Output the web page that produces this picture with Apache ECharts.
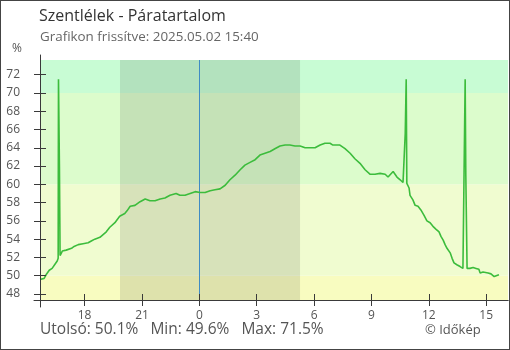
<!DOCTYPE html>
<html>
<head>
<meta charset="utf-8">
<script src="https://cdn.jsdelivr.net/npm/echarts@6/dist/echarts.min.js"></script>
<style>
  html, body { margin: 0; padding: 0; background: #fff; }
  #chart { width: 510px; height: 350px; }
</style>
</head>
<body>
<div id="chart"></div>
<script>
// Relative humidity, Szentlélek, last 24 hours (local time)
const times = [
  '15:40','15:53','15:59','16:09','16:18','16:28','16:34','16:37','16:38','16:41',
  '16:43','16:50','16:53','17:02','17:08','17:19','17:27','17:40','17:55','18:11',
  '18:21','18:32','18:48','18:58','19:08','19:19','19:35','19:50','20:06','20:13',
  '20:23','20:38','20:54','21:10','21:25','21:41','21:57','22:12','22:28','22:47',
  '22:59','23:15','23:31','23:47','00:02','00:18','00:34','00:49','01:05','01:21',
  '01:36','01:52','02:08','02:23','02:39','02:55','03:10','03:26','03:42','03:57',
  '04:13','04:29','04:44','05:00','05:16','05:32','05:47','06:03','06:19','06:34',
  '06:50','06:59','07:12','07:21','07:37','07:53','08:08','08:24','08:40','08:56',
  '09:11','09:27','09:43','09:52','10:08','10:20','10:30','10:39','10:46','10:49',
  '10:51','10:58','11:01','11:10','11:17','11:26','11:35','11:45','11:54','12:04',
  '12:13','12:22','12:32','12:38','12:45','12:51','12:57','13:07','13:13','13:19',
  '13:28','13:38','13:47','13:54','13:56','14:00','14:09','14:19','14:28','14:37',
  '14:41','14:50','14:56','15:06','15:15','15:25','15:31','15:40'
];
const humidity = [
  49.6, 49.7, 50.1, 50.6, 50.8, 51.3, 51.6, 51.9, 71.5, 61.8,
  52.2, 52.7, 52.9, 52.8, 53.0, 53.0, 53.2, 53.4, 53.5, 53.6,
  53.8, 54.0, 54.2, 54.5, 54.8, 55.3, 55.8, 56.5, 56.8, 57.1,
  57.6, 57.7, 58.1, 58.4, 58.2, 58.2, 58.4, 58.5, 58.8, 59.0,
  58.8, 58.8, 59.0, 59.2, 59.1, 59.1, 59.3, 59.4, 59.5, 59.9,
  60.5, 61.0, 61.6, 62.1, 62.4, 62.7, 63.2, 63.4, 63.6, 63.9,
  64.2, 64.3, 64.3, 64.2, 64.2, 64.0, 64.0, 64.0, 64.3, 64.5,
  64.5, 64.3, 64.3, 64.3, 63.9, 63.4, 62.8, 62.3, 61.6, 61.1,
  61.1, 61.2, 61.1, 60.8, 61.4, 60.8, 60.5, 60.2, 65.6, 71.5,
  60.1, 59.6, 58.8, 58.3, 57.7, 57.6, 57.2, 56.6, 56.0, 55.8,
  55.4, 55.1, 54.8, 54.3, 53.9, 53.4, 53.0, 52.5, 51.9, 51.4,
  51.2, 51.0, 50.8, 71.5, 61.1, 50.8, 50.8, 50.9, 50.8, 50.7,
  50.3, 50.4, 50.5, 50.3, 50.2, 49.9, 50.0, 50.1
];

// Axis ticks
const hourTicks = [18, 21, 0, 3, 6, 9, 12, 15];
const humidityTickMin = 48;
const humidityTickMax = 72;
const humidityTickStep = 2;

// Background bands by humidity level
const bandLimits = [47.34, 50, 60, 70, 73.61];
const bandColors = ['#f8fcc0', '#f0fcd0', '#dcfccc', '#c8fcd4'];

// Darkness (sunset → sunrise)
const sunset = '19:51';
const sunrise = '05:16';

const updated = '2025.05.02 15:40';

// Axis range in hours relative to midnight
const xMin = -500 / 60;
const xMax = 16.14;
const yMin = bandLimits[0];
const yMax = bandLimits[bandLimits.length - 1];

// Plot rectangle (px)
const plot = { left: 40, right: 2, top: 60, bottom: 50 };
const pxPerUnit = (350 - plot.top - plot.bottom) / (yMax - yMin);
// Sub-rectangle spanning exactly the labelled humidity range
const tickTop = plot.top + (yMax - humidityTickMax) * pxPerUnit;
const tickBottom = plot.bottom + (humidityTickMin - yMin) * pxPerUnit;

function clock(t) {
  const [h, m] = t.split(':').map(Number);
  return h + m / 60;
}
// Times before midnight belong to the previous day
function relHour(t) {
  const c = clock(t);
  return c >= 15.5 ? c - 24 : c;
}

let dayOffset = -24, prev = null;
const points = times.map((t, i) => {
  const c = clock(t);
  if (prev !== null && c < prev) dayOffset = 0;
  prev = c;
  return [c + dayOffset, humidity[i]];
});

const tickHours = hourTicks.map(h => (h >= 16 ? h - 24 : h));

const lastVal = humidity[humidity.length - 1];
const minVal = Math.min(...humidity);
const maxVal = Math.max(...humidity);

const FONT = 'Open Sans';
const axisColor = '#3a3a3a';
const labelColor = '#555';

const chart = echarts.init(document.getElementById('chart'), null, { renderer: 'canvas' });

const plainText = (size, color) => ({ fontSize: size, fontWeight: 'normal', color: color, fontFamily: FONT });
const hiddenAxis = (gridIndex, min, max) => ({ gridIndex, type: 'value', min, max, show: false, axisLine: { onZero: false } });
const stroke = () => ({ color: axisColor, width: 1 });

const option = {
  animation: false,
  backgroundColor: '#fff',
  textStyle: { fontFamily: FONT },
  title: [
    { text: 'Szentlélek - Páratartalom', left: 39, top: 8, padding: 0, textStyle: plainText(16, '#333') },
    { text: 'Grafikon frissítve: ' + updated, left: 40, top: 31, padding: 0, textStyle: plainText(13.4, '#666') },
    { text: '%', left: 12, top: 43, padding: 0, textStyle: plainText(12, labelColor) },
    { text: 'Utolsó: ' + lastVal.toFixed(1) + '%   Min: ' + minVal.toFixed(1) + '%   Max: ' + maxVal.toFixed(1) + '%',
      left: 40, top: 322, padding: 0, textStyle: plainText(15.5, '#555') },
    { text: '© Időkép', left: 425, top: 324, padding: 0, textStyle: plainText(13, '#555') }
  ],
  grid: [
    Object.assign({ containLabel: false }, plot),                                     // 0 main plot
    { left: 40, right: 2, top: 55, bottom: 43, containLabel: false },                // 1 extended vertical axis line
    { left: 34, right: 3, top: 60, bottom: 50, containLabel: false },                // 2 extended horizontal axis line
    Object.assign({ containLabel: false }, plot),                                     // 3 inward hour ticks
    { left: 40, right: 2, top: tickTop, bottom: tickBottom, containLabel: false },   // 4 humidity labels
    { left: 34, width: 12, top: tickTop, bottom: tickBottom, containLabel: false }   // 5 humidity tick marks across the axis
  ],
  xAxis: [
    { gridIndex: 0, type: 'value', min: xMin, max: xMax, z: 10,
      splitLine: { show: false },
      axisLine: { show: true, onZero: false, lineStyle: stroke() },
      axisTick: { show: true, inside: false, length: 6, customValues: tickHours, lineStyle: stroke() },
      axisLabel: { show: true, customValues: tickHours, margin: 10,
        formatter: v => String(Math.round((v + 24) % 24)),
        color: labelColor, fontSize: 12, fontFamily: FONT } },
    hiddenAxis(1, xMin, xMax),
    { gridIndex: 2, type: 'value', min: 0, max: 1, z: 10,
      splitLine: { show: false },
      axisLine: { show: true, onZero: false, lineStyle: stroke() },
      axisTick: { show: false }, axisLabel: { show: false } },
    { gridIndex: 3, type: 'value', min: xMin, max: xMax, z: 10,
      splitLine: { show: false },
      axisLine: { show: true, onZero: false, lineStyle: stroke() },
      axisTick: { show: true, inside: true, length: 6, customValues: tickHours, lineStyle: stroke() },
      axisLabel: { show: false } },
    hiddenAxis(4, xMin, xMax),
    hiddenAxis(5, 0, 1)
  ],
  yAxis: [
    { gridIndex: 0, type: 'value', min: yMin, max: yMax, show: false, axisLine: { onZero: false } },
    { gridIndex: 1, type: 'value', min: 0, max: 1, z: 10,
      splitLine: { show: false },
      axisLine: { show: true, onZero: false, lineStyle: stroke() },
      axisTick: { show: false }, axisLabel: { show: false } },
    hiddenAxis(2, yMin, yMax),
    hiddenAxis(3, yMin, yMax),
    { gridIndex: 4, type: 'value', min: humidityTickMin, max: humidityTickMax, interval: humidityTickStep, z: 10,
      splitLine: { show: false },
      axisLine: { show: false, onZero: false },
      axisTick: { show: false },
      axisLabel: { show: true, margin: 20, showMinLabel: true, showMaxLabel: true,
        color: labelColor, fontSize: 12, fontFamily: FONT } },
    { gridIndex: 5, type: 'value', min: humidityTickMin, max: humidityTickMax, interval: humidityTickStep, z: 10,
      splitLine: { show: true, showMinLine: true, showMaxLine: true, lineStyle: stroke() },
      axisLine: { show: false, onZero: false },
      axisTick: { show: false },
      axisLabel: { show: false } }
  ],
  series: [
    {
      // humidity level bands
      type: 'line', xAxisIndex: 0, yAxisIndex: 0, data: [], silent: true, z: 1,
      markArea: {
        silent: true,
        data: bandColors.map((c, i) => [
          { yAxis: bandLimits[i], itemStyle: { color: c, opacity: 1 } },
          { yAxis: bandLimits[i + 1] }
        ])
      }
    },
    {
      // night shading and midnight marker
      type: 'line', xAxisIndex: 0, yAxisIndex: 0, data: [], silent: true, z: 2,
      markArea: {
        silent: true,
        itemStyle: { color: 'rgba(0,0,0,0.1)' },
        data: [[{ xAxis: relHour(sunset) }, { xAxis: relHour(sunrise) }]]
      },
      markLine: {
        silent: true, symbol: 'none', label: { show: false },
        lineStyle: { color: '#3f8cc4', width: 1, type: 'solid' },
        data: [{ xAxis: 0 }]
      }
    },
    {
      name: 'Páratartalom',
      type: 'line', xAxisIndex: 0, yAxisIndex: 0, z: 5,
      data: points,
      showSymbol: false,
      lineStyle: { color: '#3cbc3c', width: 1.6 },
      itemStyle: { color: '#3cbc3c' }
    }
  ],
  graphic: [
    { type: 'rect', silent: true, z: 100,
      shape: { x: 0, y: 0, width: 510, height: 350 },
      style: { fill: 'none', stroke: '#444', lineWidth: 2 } }
  ]
};

chart.setOption(option);
</script>
</body>
</html>
